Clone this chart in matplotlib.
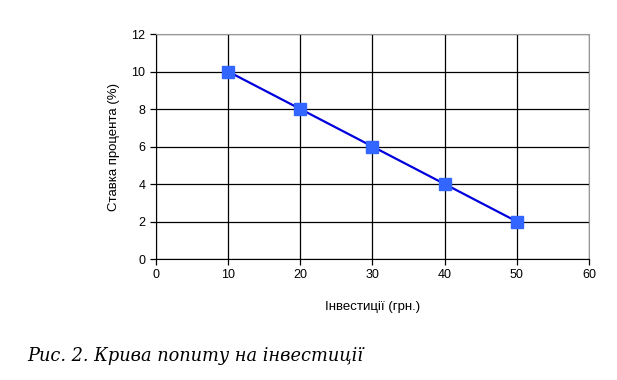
import matplotlib.pyplot as plt

invest = [10, 20, 30, 40, 50]
rate = [10, 8, 6, 4, 2]
x_ticks = [0, 10, 20, 30, 40, 50, 60]
y_ticks = [0, 2, 4, 6, 8, 10, 12]

plt.rcParams['font.family'] = ['Liberation Sans', 'DejaVu Sans']

fig = plt.figure(figsize=(6.17, 3.80), dpi=100)
ax = fig.add_axes([0.2528, 0.3184, 0.7018, 0.5921])

ax.plot(invest, rate, color="#0000DD", lw=1.6, marker="s", ms=8,
        markerfacecolor="#3366FF", markeredgecolor="#3366FF", zorder=3)

ax.set_xlim(0, 60)
ax.set_ylim(0, 12)
ax.set_xticks(x_ticks)
ax.set_yticks(y_ticks)
ax.grid(True, color="black", lw=0.9)
ax.tick_params(labelsize=9, length=4, width=0.9, color="black")
for s in ["top", "right"]:
    ax.spines[s].set_color("#999999")
for s in ["left", "bottom"]:
    ax.spines[s].set_color("black")

ax.set_xlabel("Інвестиції (грн.)", fontsize=9.5, labelpad=14)
ax.set_ylabel("Ставка процента (%)", fontsize=9.5, labelpad=8)

fig.text(0.045, 0.05, "Рис. 2. Крива попиту на інвестиції", fontsize=12.8,
         style="italic", family=["DejaVu Serif"])

plt.savefig("out.png", dpi=100)
